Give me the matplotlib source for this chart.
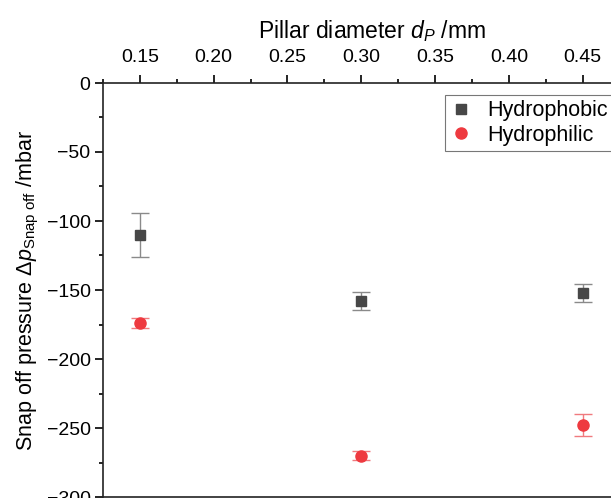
import numpy as np
import matplotlib
matplotlib.use('Agg')
import matplotlib.pyplot as plt
from matplotlib.ticker import MultipleLocator
from matplotlib.lines import Line2D

plt.rcParams['font.family'] = ['Liberation Sans', 'DejaVu Sans']
plt.rcParams['mathtext.fontset'] = 'custom'
plt.rcParams['mathtext.rm'] = 'Liberation Sans'
plt.rcParams['mathtext.it'] = 'Liberation Sans:italic'

# ── data ──────────────────────────────────────────────────────────────────────
diameter = [0.15, 0.30, 0.45]
phobic_mean = [-110, -158, -152]
phobic_err = [16, 6.5, 6.5]
philic_mean = [-174, -270, -248]
philic_err = [3.5, 3, 8]

DARK = '#474747'
RED = '#ee3a40'

# axes runs past the right edge of the picture, as in the cropped original
fig = plt.figure(figsize=(6.11, 4.98), dpi=100)
ax = fig.add_axes([103/611, 1/498, (641-103)/611, 414/498])

ax.errorbar(diameter, phobic_mean, yerr=phobic_err, fmt='s', ms=7.2,
            color=DARK, ecolor='#8a8a8a', elinewidth=1.0, capsize=6.5,
            capthick=1.0)
ax.errorbar(diameter, philic_mean, yerr=philic_err, fmt='o', ms=8,
            color=RED, ecolor='#f07a7e', elinewidth=1.0, capsize=6.5,
            capthick=1.0)

ax.set_xlim(0.125, 0.4895)
ax.set_ylim(-300, 0)

ax.xaxis.tick_top()
ax.xaxis.set_label_position('top')
ax.xaxis.set_major_locator(MultipleLocator(0.05))
ax.xaxis.set_minor_locator(MultipleLocator(0.025))
ax.yaxis.set_major_locator(MultipleLocator(50))
ax.yaxis.set_minor_locator(MultipleLocator(25))
ax.xaxis.set_major_formatter(plt.FuncFormatter(lambda v, p: f'{v:.2f}'))
ax.yaxis.set_major_formatter(plt.FuncFormatter(lambda v, p: f'{v:.0f}'.replace('-', '\u2212')))

ax.tick_params(axis='x', which='major', direction='out', length=6, width=1.2,
               labelsize=14, pad=6)
ax.tick_params(axis='x', which='minor', direction='out', length=3, width=1.2)
ax.tick_params(axis='y', which='major', direction='out', length=6, width=1.2,
               labelsize=14, pad=3)
ax.tick_params(axis='y', which='minor', direction='out', length=3, width=1.2)
for sp in ax.spines.values():
    sp.set_linewidth(1.2)
    sp.set_color('#222222')

ax.set_xlabel('Pillar diameter $d_P$ /mm', fontsize=16.5, labelpad=8)
ax.set_ylabel('Snap off pressure $\\Delta p_{\\mathrm{Snap\\ off}}$ /mbar',
              fontsize=15.5, labelpad=4)

handles = [Line2D([], [], ls='none', marker='s', ms=7.2, color=DARK),
           Line2D([], [], ls='none', marker='o', ms=8, color=RED)]
leg = ax.legend(handles, ['Hydrophobic', 'Hydrophilic'], loc='upper left',
                bbox_to_anchor=((445 - 103) / 538, 1 - 12 / 414), fontsize=15.5,
                frameon=True, fancybox=False, edgecolor='#555555',
                handletextpad=0.7, borderpad=0.25, labelspacing=0.15,
                handlelength=1.0, borderaxespad=0)
leg.get_frame().set_linewidth(0.8)

fig.savefig('out.png', dpi=100)
